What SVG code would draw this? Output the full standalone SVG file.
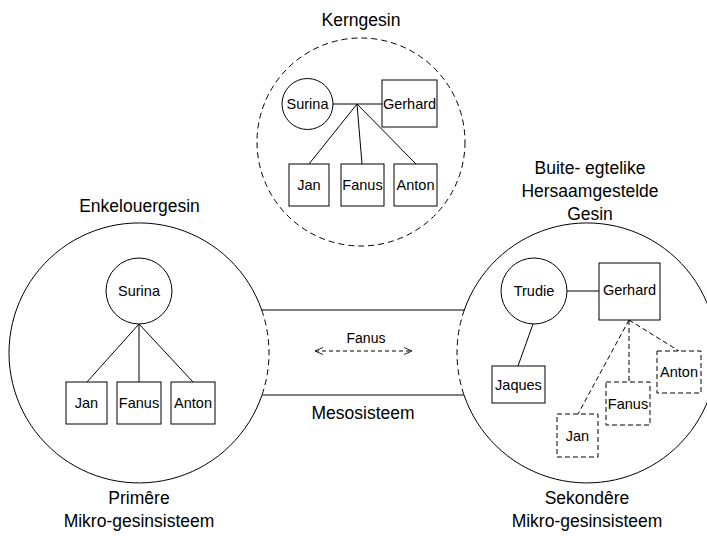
<svg xmlns="http://www.w3.org/2000/svg" width="707" height="536" viewBox="0 0 707 536">
<defs>
<style>
.ln{fill:none;stroke:#000;stroke-width:1}
.dash{stroke-dasharray:6 4}
.dsh{stroke-dasharray:5 3}
.nd{fill:#fff;stroke:#000;stroke-width:1}
.ndd{fill:#fff;stroke:#000;stroke-width:1;stroke-dasharray:5 3}
.t{font-family:"Liberation Sans",Arial,sans-serif;font-size:14.5px;fill:#000;text-anchor:middle;dominant-baseline:central}
.et{font-family:"Liberation Sans",Arial,sans-serif;font-size:14px;fill:#000;text-anchor:middle;dominant-baseline:central}
.lb{font-family:"Liberation Sans",Arial,sans-serif;font-size:17.5px;fill:#000;text-anchor:middle}
</style>
<marker id="arr" markerWidth="10" markerHeight="10" refX="9" refY="5" orient="auto-start-reverse" markerUnits="userSpaceOnUse">
<path d="M1,1.5 L9,5 L1,8.5" fill="none" stroke="#222" stroke-width="1"/>
</marker>
</defs>
<rect width="707" height="536" fill="#fff"/>

<!-- big circles -->
<g id="primere">
<path class="ln" d="M261.7 310 A130 130 0 1 0 262 395"/>
<path class="ln dash" d="M261.7 310 A130 130 0 0 1 262 395"/>
</g>
<g id="sekondere">
<path class="ln" d="M464.3 310 A130 130 0 1 1 464 395"/>
<path class="ln dash" d="M464.3 310 A130 130 0 0 0 464 395"/>
</g>
<g id="kerngesin">
<circle class="ln dash" cx="361" cy="142" r="104"/>
</g>

<g id="connectors">
<!-- mesosystem -->
<line class="ln" x1="261.7" y1="310" x2="464.3" y2="310"/>
<line class="ln" x1="262" y1="395" x2="464" y2="395"/>
<line class="ln" x1="315" y1="351" x2="412" y2="351" stroke="#222" stroke-dasharray="4 3" marker-start="url(#arr)" marker-end="url(#arr)"/>
<!-- kerngesin -->
<line class="ln" x1="333" y1="104" x2="382" y2="104"/>
<line class="ln" x1="357" y1="104" x2="309" y2="164"/>
<line class="ln" x1="357" y1="104" x2="362" y2="164"/>
<line class="ln" x1="357" y1="104" x2="416" y2="164"/>
<!-- primere -->
<line class="ln" x1="139" y1="324" x2="87" y2="382"/>
<line class="ln" x1="139" y1="324" x2="139" y2="382"/>
<line class="ln" x1="139" y1="324" x2="193" y2="382"/>
<!-- sekondere -->
<line class="ln" x1="567" y1="291" x2="599" y2="291"/>
<line class="ln" x1="533" y1="324" x2="518" y2="366"/>
<line class="ln dsh" x1="629" y1="320" x2="578" y2="414"/>
<line class="ln dsh" x1="629" y1="320" x2="629" y2="382"/>
<line class="ln dsh" x1="629" y1="320" x2="679" y2="351"/>
</g>

<!-- Kerngesin nodes -->
<g id="k-surina"><circle class="nd" cx="307.5" cy="104" r="25.5"/><text class="t" x="307.5" y="104">Surina</text></g>
<g id="k-gerhard"><rect class="nd" x="382" y="80" width="55" height="47"/><text class="t" x="409.5" y="104">Gerhard</text></g>
<g id="k-jan"><rect class="nd" x="289" y="164" width="40" height="42"/><text class="t" x="309" y="185">Jan</text></g>
<g id="k-fanus"><rect class="nd" x="341" y="164" width="43" height="42"/><text class="t" x="362.5" y="185">Fanus</text></g>
<g id="k-anton"><rect class="nd" x="394" y="164" width="43" height="42"/><text class="t" x="415.5" y="185">Anton</text></g>

<!-- Primere nodes -->
<g id="p-surina"><circle class="nd" cx="139" cy="291" r="33"/><text class="t" x="139" y="291">Surina</text></g>
<g id="p-jan"><rect class="nd" x="66" y="382" width="41" height="42"/><text class="t" x="86.5" y="403">Jan</text></g>
<g id="p-fanus"><rect class="nd" x="117" y="382" width="44" height="42"/><text class="t" x="139" y="403">Fanus</text></g>
<g id="p-anton"><rect class="nd" x="171" y="382" width="44" height="42"/><text class="t" x="193" y="403">Anton</text></g>

<!-- Sekondere nodes -->
<g id="s-trudie"><circle class="nd" cx="534" cy="291" r="33"/><text class="t" x="534" y="291">Trudie</text></g>
<g id="s-gerhard"><rect class="nd" x="599" y="263" width="61" height="57"/><text class="t" x="629.5" y="290">Gerhard</text></g>
<g id="s-jaques"><rect class="nd" x="492" y="366" width="53" height="37"/><text class="t" x="518.5" y="384.5">Jaques</text></g>
<g id="s-jan"><rect class="ndd" x="557" y="414" width="41" height="43"/><text class="t" x="577.5" y="435.5">Jan</text></g>
<g id="s-fanus"><rect class="ndd" x="606" y="382" width="44" height="43"/><text class="t" x="628" y="403.5">Fanus</text></g>
<g id="s-anton"><rect class="ndd" x="657" y="351" width="44" height="42"/><text class="t" x="679" y="372">Anton</text></g>

<!-- labels -->
<text class="et" x="366" y="338">Fanus</text>
<text class="lb" x="361" y="26">Kerngesin</text>
<text class="lb" x="139.5" y="212">Enkelouergesin</text>
<text class="lb" x="590" y="174">Buite- egtelike</text>
<text class="lb" x="590" y="197">Hersaamgestelde</text>
<text class="lb" x="590" y="220">Gesin</text>
<text class="lb" x="363" y="419">Mesosisteem</text>
<text class="lb" x="139" y="504">Primêre</text>
<text class="lb" x="139" y="527">Mikro-gesinsisteem</text>
<text class="lb" x="587" y="504">Sekondêre</text>
<text class="lb" x="587" y="527">Mikro-gesinsisteem</text>
</svg>
